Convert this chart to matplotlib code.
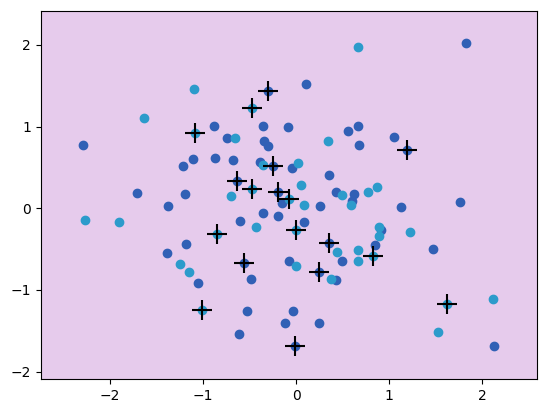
import matplotlib
matplotlib.use("Agg")
import matplotlib.pyplot as plt
import numpy as np

# points of the first group (dark blue)
x_dark = [-2.29, -0.30, -0.88, -0.74, -0.36, -0.09, -0.34, -0.30, -1.11, -1.21,
          -0.87, -0.68, -0.39, -0.25, -0.04, -0.63, -0.19, -1.71, -1.19, 1.82,
          0.11, 0.56, 0.67, 0.68, 1.05, 1.19, 0.35, 0.43, 0.62, 0.60,
          0.26, 1.13, 1.76, 0.09, 0.35, 0.49, 0.25, 0.43, 0.91, 0.85,
          1.47, 2.12, -0.03, 0.25, -0.01, -1.37, -0.60, -0.35, -0.19, -0.15,
          -1.18, -1.38, -1.05, -0.56, -0.48, -0.53, -0.12, -0.61, -0.08]
y_dark = [0.77, 1.44, 1.01, 0.86, 1.01, 1.00, 0.83, 0.76, 0.60, 0.52,
          0.62, 0.59, 0.57, 0.52, 0.49, 0.34, 0.20, 0.19, 0.17, 2.02,
          1.52, 0.95, 1.01, 0.77, 0.87, 0.71, 0.41, 0.20, 0.17, 0.09,
          0.03, 0.02, 0.08, -0.17, -0.42, -0.64, -0.78, -0.88, -0.27, -0.45,
          -0.50, -1.68, -1.26, -1.41, -1.69, 0.03, -0.16, -0.06, -0.09, 0.06,
          -0.44, -0.55, -0.92, -0.67, -0.87, -1.26, -1.40, -1.54, -0.64]

# points of the second group (light blue)
x_light = [-1.10, -1.63, -0.47, -1.08, -0.66, -0.36, -0.47, -0.70, 0.66, 0.34,
           0.02, 0.05, 0.49, 0.77, 0.87, 0.59, 0.09, 0.00, 0.44, 0.38,
           0.00, 0.89, 0.89, 0.83, 0.66, 0.67, 1.22, 1.62, 2.11, 1.52,
           -2.26, -1.90, -0.43, -0.85, -1.24, -1.15, -1.01, -0.08]
y_light = [1.46, 1.11, 1.23, 0.92, 0.86, 0.53, 0.24, 0.15, 1.98, 0.82,
           0.55, 0.28, 0.16, 0.20, 0.26, 0.04, 0.04, -0.27, -0.53, -0.86,
           -0.71, -0.23, -0.34, -0.58, -0.51, -0.64, -0.29, -1.17, -1.11, -1.52,
           -0.14, -0.17, -0.23, -0.32, -0.68, -0.78, -1.25, 0.12]

# points marked with a cross
x_mark = [-0.30, -0.47, -1.08, -0.25, -0.63, -0.47, -0.19, -0.08, 1.19,
          0.00, 0.35, 0.25, 0.83, 1.62, -0.01, -0.85, -0.56, -1.01]
y_mark = [1.44, 1.23, 0.92, 0.52, 0.34, 0.24, 0.20, 0.12, 0.71,
          -0.27, -0.42, -0.78, -0.58, -1.17, -1.69, -0.32, -0.67, -1.25]

fig = plt.figure(figsize=(5.46, 4.13), dpi=100)
ax = fig.add_axes([40.7 / 546, 1 - 379 / 413, (536.5 - 40.7) / 546, (379 - 10.7) / 413])
ax.set_facecolor("#e6cbec")

ax.scatter(x_dark, y_dark, color="#3160b5")
ax.scatter(x_light, y_light, color="#2c9bcb")
ax.scatter(x_mark, y_mark, marker="+", s=200, color="k", linewidths=1.5)

ax.set_xlim(-2.74, 2.58)
ax.set_ylim(-2.09, 2.42)
ax.set_xticks([-2, -1, 0, 1, 2])
ax.set_yticks([-2, -1, 0, 1, 2])

fig.savefig("out.png", dpi=100)
